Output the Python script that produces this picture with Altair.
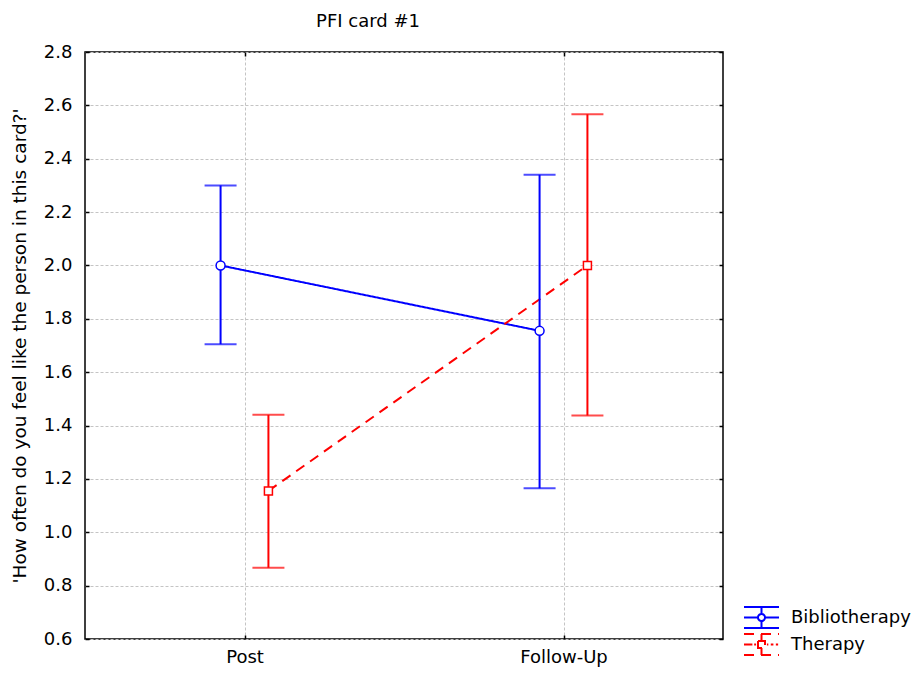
import altair as alt
import pandas as pd

phases = ["Post", "Follow-Up"]
groups = ["Bibliotherapy", "Therapy"]
biblio_mean = [2.00, 1.755]
biblio_lower = [1.705, 1.165]
biblio_upper = [2.30, 2.34]
therapy_mean = [1.155, 2.00]
therapy_lower = [0.867, 1.438]
therapy_upper = [1.44, 2.567]
y_ticks = [0.6, 0.8, 1.0, 1.2, 1.4, 1.6, 1.8, 2.0, 2.2, 2.4, 2.6, 2.8]

rows = []
for g, m, lo, hi in [("Bibliotherapy", biblio_mean, biblio_lower, biblio_upper),
                     ("Therapy", therapy_mean, therapy_lower, therapy_upper)]:
    for i, p in enumerate(phases):
        rows.append(dict(group=g, phase=p, idx=i + 1, mean=m[i], lower=lo[i], upper=hi[i]))
df = pd.DataFrame(rows)

FONT = "DejaVu Sans"
color_scale = alt.Scale(domain=groups, range=["#0000ff", "#ff0000"])
xscale = alt.Scale(domain=[0.5, 2.5], nice=False, zero=False)
yscale = alt.Scale(domain=[0.6, 2.8], nice=False, zero=False)

tick_style = dict(ticks=True, tickSize=4, tickColor="black", tickWidth=1.5, offset=-4, domain=False)

x_axis = alt.Axis(values=[1, 2], labelExpr="datum.value === 1 ? 'Post' : 'Follow-Up'",
                  title=None, grid=True, gridDash=[3, 2], gridColor="#c4c4c4", gridWidth=1,
                  labelFontSize=18, labelFont=FONT, labelColor="black", labelPadding=9,
                  **tick_style)
y_axis = alt.Axis(values=y_ticks, format=".1f",
                  title="'How often do you feel like the person in this card?'",
                  titleFontSize=18.5, titleFont=FONT, titleFontWeight="normal", titleColor="black",
                  titlePadding=14, grid=True, gridDash=[3, 2], gridColor="#c4c4c4", gridWidth=1,
                  labelFontSize=18, labelFont=FONT, labelColor="black", labelPadding=13,
                  **tick_style)
x_top = alt.Axis(orient="top", values=[1, 2], labels=False, title=None, grid=False, **tick_style)
y_right = alt.Axis(orient="right", values=y_ticks, labels=False, title=None, grid=False,
                   **tick_style)

# legend glyphs (unit radius = 17.5 px): error bar with marker.
# Markers are traced in both directions so that they are never filled.
circ = ("M0.2,0A0.2,0.2 0 1,1 -0.2,0A0.2,0.2 0 1,1 0.2,0"
        "M0.2,0A0.2,0.2 0 1,0 -0.2,0A0.2,0.2 0 1,0 0.2,0")
sq = "M-0.2,-0.2H0.2V0.2H-0.2Z" + "M-0.2,-0.2V0.2H0.2V-0.2Z"
bars = "M-1,-0.6H1M-1,0.6H1M0,-0.6V-0.2M0,0.2V0.6"
bib_path = bars + "M-1,0H-0.2M0.2,0H1" + circ
ther_path = bars + "M-1,0H-0.52M-0.42,0H-0.31M0.31,0H0.39M0.53,0H0.68M0.82,0H0.95" + sq

legend = alt.Legend(
    orient="none", legendX=658, legendY=552, title=None,
    labelFontSize=18, labelFont=FONT, labelColor="black", labelOffset=11,
    symbolSize=1225, symbolStrokeWidth=2, padding=0, rowPadding=0, clipHeight=27,
    symbolOpacity=1,
)
C = alt.Color("group:N", scale=color_scale, legend=legend)
Cn = alt.Color("group:N", scale=color_scale, legend=None)
S = alt.Shape("group:N", scale=alt.Scale(domain=groups, range=[bib_path, ther_path]), legend=legend)

base = alt.Chart(df).transform_calculate(
    xpos="datum.idx + (datum.group === 'Bibliotherapy' ? -0.075 : 0.075)"
)

Xn = alt.X("xpos:Q", scale=xscale, axis=None)

legend_layer = base.mark_point(size=1, strokeWidth=2, filled=False, fill="white",
                               opacity=1).encode(
    x=alt.X("xpos:Q", scale=xscale, axis=x_axis),
    y=alt.Y("mean:Q", scale=yscale, axis=y_axis), color=C, shape=S)
rules = base.mark_rule(strokeWidth=2).encode(
    x=alt.X("xpos:Q", scale=xscale, axis=x_top),
    y=alt.Y("lower:Q", scale=yscale, axis=y_right), y2="upper:Q", color=Cn)
cap_lo = base.mark_tick(orient="horizontal", size=32, thickness=2).encode(
    x=Xn, y=alt.Y("lower:Q", scale=yscale, axis=None), color=Cn)
cap_hi = base.mark_tick(orient="horizontal", size=32, thickness=2).encode(
    x=Xn, y=alt.Y("upper:Q", scale=yscale, axis=None), color=Cn)
lines = base.mark_line(strokeWidth=2).encode(
    x=Xn, y=alt.Y("mean:Q", scale=yscale, axis=None), color=Cn,
    strokeDash=alt.StrokeDash("group:N", scale=alt.Scale(domain=groups, range=[[1, 0], [10, 7]]),
                              legend=None),
    detail="group:N")
pts_b = base.transform_filter("datum.group === 'Bibliotherapy'").mark_point(
    shape="circle", filled=False, fill="white", fillOpacity=1, size=80, strokeWidth=1.5,
    opacity=1).encode(x=Xn, y=alt.Y("mean:Q", scale=yscale, axis=None), color=Cn)
pts_t = base.transform_filter("datum.group === 'Therapy'").mark_point(
    shape="square", filled=False, fill="white", fillOpacity=1, size=64, strokeWidth=1.5,
    opacity=1).encode(x=Xn, y=alt.Y("mean:Q", scale=yscale, axis=None), color=Cn)

chart = alt.layer(legend_layer, lines, rules, cap_lo, cap_hi, pts_b, pts_t).resolve_axis(
    x="independent", y="independent"
).properties(
    width=638, height=587,
    autosize=alt.AutoSizeParams(type="none"),
    padding={"left": 85, "top": 52, "right": 193, "bottom": 34},
    background="white",
    title=alt.Title("PFI card #1", fontSize=18, font=FONT, fontWeight="normal", color="black",
                    anchor="middle", dx=-36, offset=12),
).configure_view(stroke="black", strokeWidth=1.5)

chart.save("out.html", embed_options={"renderer": "svg", "actions": False})
